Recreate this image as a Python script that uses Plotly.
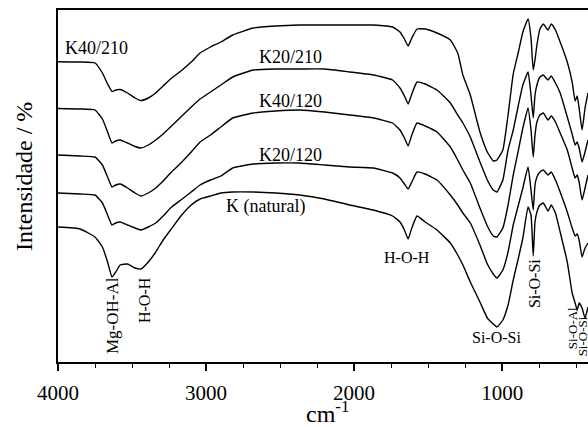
import plotly.graph_objects as go

# wavenumber grid (cm-1) shared by all spectra
wavenumber = [4000, 3850, 3750, 3700, 3665, 3635, 3610, 3580, 3530, 3480, 3440, 3390, 3340, 3290,
              3240, 3170, 3100, 3040, 2970, 2900, 2820, 2680, 2530, 2370, 2200, 2030, 1870, 1740,
              1690, 1660, 1635, 1610, 1575, 1520, 1440, 1350, 1300, 1265, 1215, 1150, 1100, 1060,
              1035, 995, 960, 925, 890, 860, 825, 805, 790, 778, 765, 745, 722, 690, 668, 640,
              608, 560, 527, 507, 493, 480, 460, 440, 420]

# intensities (arbitrary, stacked)
k40_210 = [300.3, 300, 299, 289, 278, 270.5, 272, 272.5, 269, 264, 261.5, 264, 269, 276, 283, 291,
           300, 309, 315, 320, 327, 334, 336, 337, 337, 337, 337, 335, 330, 323, 316, 324, 333, 333,
           329, 322, 309, 287, 267, 230, 210, 201, 202, 212, 247, 288, 310, 330, 343, 324, 292, 302,
           317, 333, 338, 332, 338, 332, 320, 300, 280, 261, 266, 254, 232, 254, 269]
k20_210 = [253.5, 253, 252, 243, 230, 219, 221, 222, 219, 215.5, 214, 217, 222, 228, 235, 245, 255,
           263, 270, 277, 285, 292, 293, 293, 293, 290, 287, 282, 274, 266, 258, 268, 280, 278, 272,
           259, 247, 239, 225, 200, 182, 172, 170, 182, 212, 232, 257, 277, 290, 267, 244, 267, 277,
           285, 287, 282, 286, 279, 269, 245, 228, 217, 220, 214, 200, 210, 222]
k40_120 = [207, 206, 205, 197, 185, 175, 177, 178, 174, 169, 166, 169, 174, 181, 189, 199, 210, 220,
           227, 235, 244, 249, 251, 252, 250, 247, 244, 239, 232, 224, 216, 227, 239, 236, 230, 215,
           202, 192, 179, 154, 136, 126, 125, 134, 157, 187, 212, 234, 254, 232, 205, 227, 240, 247,
           249, 242, 246, 240, 229, 212, 194, 184, 187, 180, 162, 174, 187]
k20_120 = [169, 168, 167, 159, 147, 137, 139, 140, 137, 134, 132, 135, 139, 146, 154, 162, 170, 177,
           182, 186, 194, 198, 199, 199, 197, 195, 194, 189, 184, 178, 173, 180, 190, 188, 182, 167,
           157, 149, 139, 117, 98, 88, 84, 92, 110, 137, 157, 174, 195, 172, 152, 177, 185, 190, 192,
           187, 190, 182, 170, 150, 134, 126, 128, 122, 105, 114, 119]
k_natural = [135, 133, 125, 115, 100, 85, 90, 97, 98, 94, 93, 100, 110, 122, 132, 146, 157, 163,
             166, 169, 170, 170, 169, 167, 163, 157, 152, 146, 140, 132, 123, 134, 146, 140, 132,
             119, 107, 97, 80, 60, 44, 38, 35, 42, 57, 82, 104, 124, 155, 147, 106, 140, 150, 157,
             159, 151, 157, 149, 130, 100, 69, 59, 52, 59, 54, 44, 55]

series_names = ["K40/210", "K20/210", "K40/120", "K20/120", "K (natural)"]
series_values = [k40_210, k20_210, k40_120, k20_120, k_natural]

# curve labels: (text, wavenumber, intensity)
curve_labels = [("K40/210", 3743, 314), ("K20/210", 2432, 305), ("K40/120", 2432, 261),
                ("K20/120", 2432, 207), ("K (natural)", 2601, 156)]
# band labels: (text, wavenumber, intensity, angle, size)
band_labels = [("H-O-H", 1642, 105, 0, 16), ("Si-O-Si", 1041, 25, 0, 16),
               ("Mg-OH-Al", 3635, 46, -90, 17), ("H-O-H", 3419, 62, -90, 16),
               ("Si-O-Si", 784, 78, -90, 16), ("Si-O-Al", 527, 34, -90, 13),
               ("Si-O-Si", 458, 26, -90, 13)]

SERIF = "Liberation Serif"

fig = go.Figure()
for name, vals in zip(series_names, series_values):
    fig.add_trace(go.Scatter(x=wavenumber, y=vals, mode="lines", name=name,
                             line=dict(color="black", width=1.4, shape="spline", smoothing=0.4),
                             showlegend=False))

for text, x, y in curve_labels:
    fig.add_annotation(x=x, y=y, text=text, showarrow=False, xanchor="center", yanchor="middle",
                       font=dict(family=SERIF, size=18, color="black"))
for text, x, y, ang, sz in band_labels:
    fig.add_annotation(x=x, y=y, text=text, showarrow=False, textangle=ang,
                       xanchor="center", yanchor="middle",
                       font=dict(family=SERIF, size=sz, color="black"))

fig.add_annotation(xref="paper", yref="paper", x=-0.064, y=0.526, text="Intensidade / %",
                   textangle=-90, showarrow=False, xanchor="center", yanchor="middle",
                   font=dict(family=SERIF, size=24, color="black"))
fig.add_annotation(xref="paper", yref="paper", x=0.509, y=-0.142, text="cm<sup>-1</sup>",
                   showarrow=False, xanchor="center", yanchor="middle",
                   font=dict(family=SERIF, size=24, color="black"))

fig.update_xaxes(range=[4000, 420], showline=True, linecolor="black", linewidth=1.5, mirror=True,
                 ticks="outside", ticklen=7, tickwidth=1.5, tickcolor="black",
                 tick0=0, dtick=1000, showgrid=False, zeroline=False,
                 tickfont=dict(family=SERIF, size=21, color="black"), ticklabelstandoff=4,
                 minor=dict(dtick=250, ticks="outside", ticklen=4, tickwidth=1.2,
                            tickcolor="black", showgrid=False))
fig.update_yaxes(range=[0, 352], showline=True, linecolor="black", linewidth=1.5,
                 showticklabels=False, ticks="", showgrid=False, zeroline=False)

fig.update_layout(width=588, height=427, margin=dict(l=58, r=0, t=10, b=65),
                  paper_bgcolor="white", plot_bgcolor="white",
                  font=dict(family=SERIF, color="black"))

fig.write_html("out.html")
